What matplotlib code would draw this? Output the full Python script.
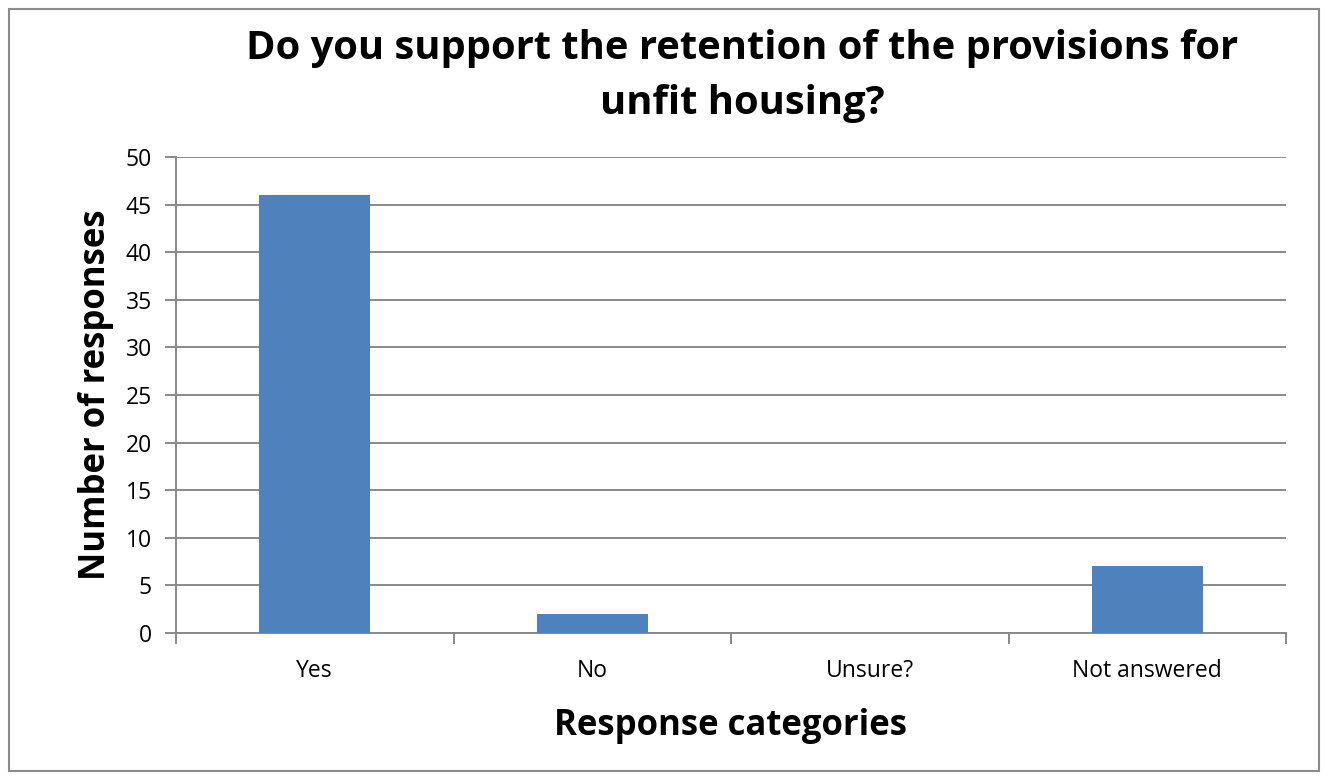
import matplotlib
matplotlib.use('Agg')
import matplotlib.pyplot as plt
from matplotlib.patches import Rectangle

categories = ['Yes', 'No', 'Unsure?', 'Not answered']
responses = [46, 2, 0, 7]
yticks = [0, 5, 10, 15, 20, 25, 30, 35, 40, 45, 50]

plt.rcParams['font.family'] = ['Open Sans', 'DejaVu Sans']
gridcol = '#898989'

fig = plt.figure(figsize=(13.26, 7.78), dpi=100)
ax = fig.add_axes([176/1326, 1 - 633/778, 1110/1326, 476/778])

x = list(range(len(categories)))
ax.bar(x, responses, width=0.4, color='#4F81BD', zorder=3)

ax.set_xlim(-0.5, len(categories) - 0.5)
ax.set_ylim(0, 50)
ax.set_yticks(yticks)
ax.yaxis.grid(True, color=gridcol, linewidth=1.4, zorder=0)
ax.tick_params(axis='y', length=8, width=1.4, color=gridcol, labelsize=16.5, pad=9.5)

# category labels sit at centres, tick marks at the boundaries
ax.set_xticks(x)
ax.set_xticklabels(categories)
ax.tick_params(axis='x', which='major', length=0, labelsize=16.5, pad=18.5)
ax.set_xticks([i - 0.5 for i in range(len(categories) + 1)], minor=True)
ax.tick_params(axis='x', which='minor', length=8, width=1.4, color=gridcol)

for s in ['top', 'right']:
    ax.spines[s].set_visible(False)
for s in ['left', 'bottom']:
    ax.spines[s].set_color(gridcol)
    ax.spines[s].set_linewidth(1.4)

ax.set_xlabel('Response categories', fontsize=25, fontweight='bold', labelpad=18)
ax.set_ylabel('Number of responses', fontsize=25, fontweight='bold', labelpad=8)

fig.text(742/1326, 1 - 76/778,
         'Do you support the retention of the provisions for\nunfit housing?',
         ha='center', va='center', fontsize=28.7, fontweight='bold',
         linespacing=1.56)

fig.patches.append(Rectangle((9/1326, 1 - 771/778), 1310/1326, 762/778,
                             transform=fig.transFigure, fill=False,
                             edgecolor='#8c8c8c', linewidth=1.5))

fig.savefig('out.png', dpi=100)
